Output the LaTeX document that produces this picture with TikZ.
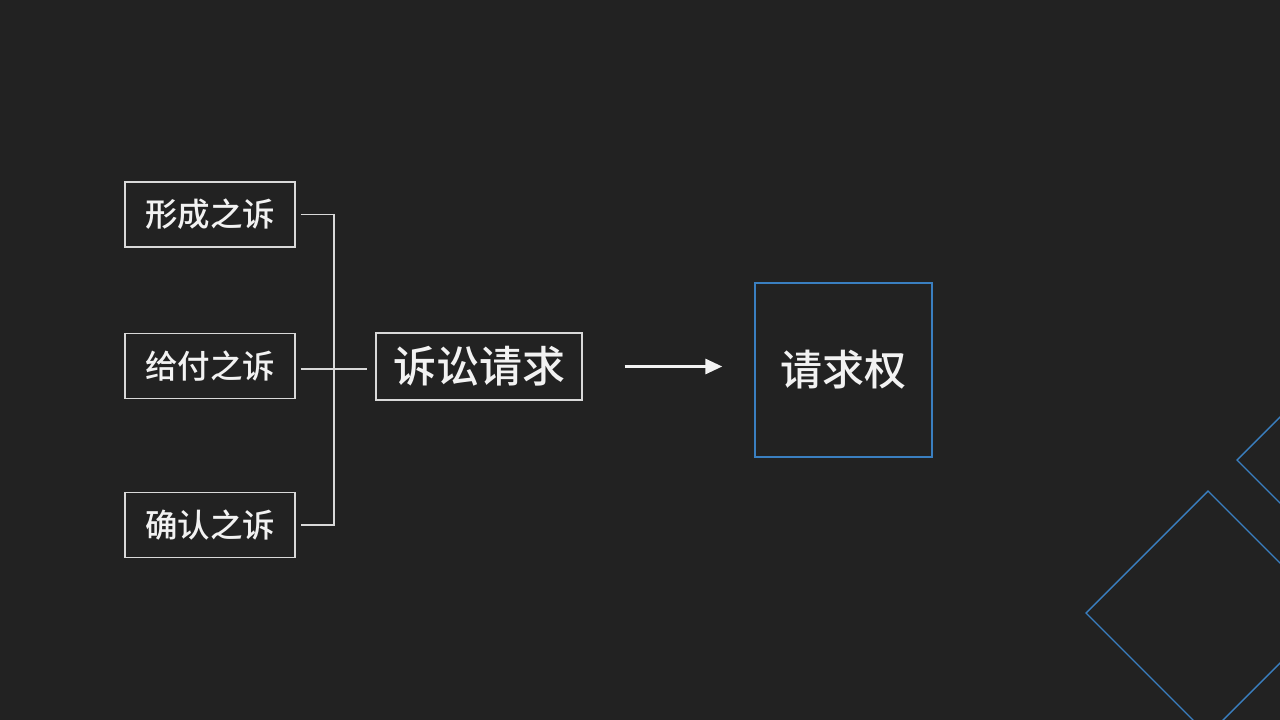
\documentclass[tikz,border=0pt]{standalone}
\usepackage{fontspec}
\newfontfamily\cjk{Noto Sans CJK SC Medium}
\usetikzlibrary{arrows.meta,calc,positioning}
\definecolor{bgc}{HTML}{222222}
\definecolor{txt}{HTML}{F2F2F2}
\definecolor{rim}{HTML}{D9D9D9}
\definecolor{accent}{HTML}{3A7FC0}
\tikzset{
  kind/.style={draw=rim,line width=1.2pt,text=txt,minimum width=170pt,minimum height=65pt,
    inner sep=0pt,font=\cjk\fontsize{32.5}{36}\selectfont},
  claim/.style={draw=rim,line width=1.2pt,text=txt,minimum width=206pt,minimum height=67pt,
    inner sep=0pt,font=\cjk\fontsize{43}{48}\selectfont},
  right/.style={draw=accent,line width=1.4pt,text=txt,minimum width=177pt,minimum height=174pt,
    inner sep=0pt,font=\cjk\fontsize{42}{48}\selectfont},
  link/.style={draw=rim,line width=1.2pt},
  arr/.style={draw=txt,line width=3pt,-{Triangle[length=17pt,width=15pt]}},
  deco/.style={draw=accent,line width=1.4pt}
}
\begin{document}
\begin{tikzpicture}[x=1pt,y=-1pt]
\fill[bgc] (0,0) rectangle (1280,720);
\useasboundingbox (0,0) rectangle (1280,720);
% three kinds of action
\node[kind] (xc) at (210,214.5) {形成之诉};
\node[kind] (gf) at (210,366) {给付之诉};
\node[kind] (qr) at (210,525) {确认之诉};
\node[claim] (ss) at (479,366.5) {诉讼请求};
\node[right] (qq) at (843.5,370) {请求权};
\coordinate (jn) at (334,369);
\draw[link] ([xshift=5pt]xc.east) -| (jn) |- ([xshift=5pt]qr.east);
\draw[link] ([xshift=5pt]gf.east |- jn) -- ([xshift=-8pt]ss.west |- jn);
\draw[arr] ([xshift=42pt]ss.east) -- ([xshift=-32pt]qq.west |- ss.east);
% corner decoration
\begin{scope}
\clip (0,0) rectangle (1280,720);
\draw[deco] (1086,613) -- (1208,491) -- (1330,613) -- (1208,735) -- cycle;
\draw[deco] (1237,460) -- (1359,338) -- (1481,460) -- (1359,582) -- cycle;
\end{scope}
\end{tikzpicture}
\end{document}
